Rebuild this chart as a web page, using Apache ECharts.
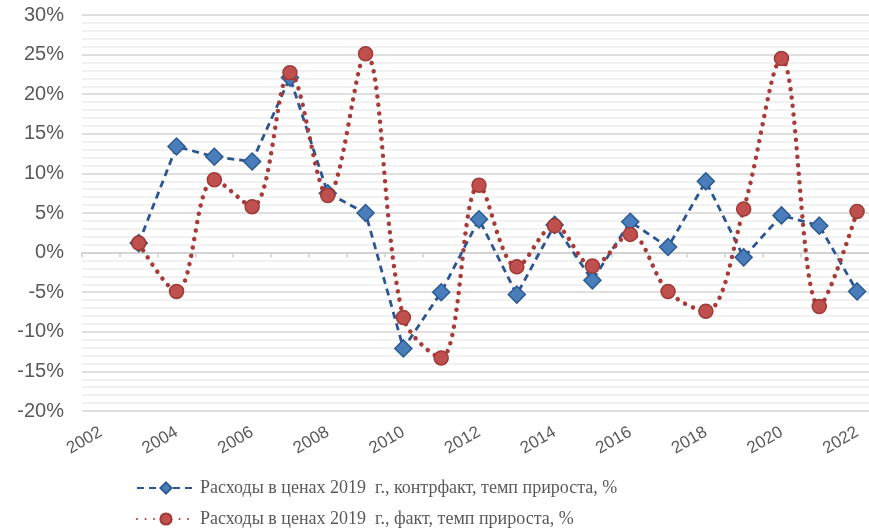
<!DOCTYPE html>
<html>
<head>
<meta charset="utf-8">
<script src="https://cdn.jsdelivr.net/npm/echarts@6/dist/echarts.min.js"></script>
<style>
html,body{margin:0;padding:0;background:#fff;overflow:hidden;width:869px;height:528px;}
#c{width:877px;height:528px;}
</style>
</head>
<body>
<div id="c"></div>
<script>
const years = ['2002','2003','2004','2005','2006','2007','2008','2009','2010','2011','2012','2013','2014','2015','2016','2017','2018','2019','2020','2021','2022'];
const seriesNames = [
  'Расходы в ценах 2019  г., контрфакт, темп прироста, %',
  'Расходы в ценах 2019  г., факт, темп прироста, %'
];
const counterfact = [null, 1.2, 13.4, 12.1, 11.5, 22.1, 7.5, 5.0, -12.1, -5.0, 4.2, -5.3, 3.5, -3.5, 3.9, 0.7, 9.0, -0.6, 4.7, 3.4, -4.9];
const actual = [null, 1.2, -4.9, 9.2, 5.8, 22.7, 7.2, 25.1, -8.2, -13.3, 8.5, -1.8, 3.4, -1.7, 2.3, -4.9, -7.4, 5.5, 24.5, -6.8, 5.2];
const yMin = -20, yMax = 30, yStep = 5;

const legendText = {fontFamily: 'Liberation Serif', fontSize: 18, color: '#595959'};
const chart = echarts.init(document.getElementById('c'), null, {renderer: 'canvas'});
chart.setOption({
  animation: false,
  backgroundColor: '#ffffff',
  grid: {left: 82, top: 15, width: 794, height: 396, containLabel: false},
  legend: [{
    orient: 'horizontal',
    left: 131,
    top: 474,
    itemWidth: 58,
    itemHeight: 14,
    textStyle: legendText,
    data: [seriesNames[0]]
  }, {
    orient: 'horizontal',
    left: 131,
    top: 505,
    itemWidth: 58,
    itemHeight: 14,
    textStyle: legendText,
    data: [seriesNames[1]]
  }],
  xAxis: [{
    type: 'category',
    data: years,
    boundaryGap: true,
    axisLine: {show: true, onZero: true, lineStyle: {color: '#d0d0d0', width: 1.5}},
    axisTick: {show: true, length: 5, lineStyle: {color: '#d0d0d0', width: 1.5}},
    axisLabel: {show: false},
    splitLine: {show: false}
  }, {
    type: 'category',
    data: years,
    position: 'bottom',
    boundaryGap: true,
    axisLine: {show: false, onZero: false},
    axisTick: {show: false},
    axisLabel: {show: true, interval: 1, rotate: 30, margin: 20, fontFamily: 'Liberation Sans', fontSize: 17, color: '#595959'},
    splitLine: {show: false}
  }],
  yAxis: {
    type: 'value',
    min: yMin, max: yMax, interval: yStep,
    axisLine: {show: false},
    axisTick: {show: false},
    axisLabel: {formatter: v => v + '%', fontFamily: 'Liberation Sans', fontSize: 20, color: '#595959', margin: 18},
    splitLine: {show: true, lineStyle: {color: '#d4d4d4', width: 1.5}},
    minorTick: {show: false, splitNumber: 5},
    minorSplitLine: {show: true, lineStyle: {color: '#ededed', width: 1.5}}
  },
  series: [{
    name: seriesNames[0],
    type: 'line',
    xAxisIndex: 0,
    data: counterfact,
    symbol: 'diamond',
    symbolSize: 17,
    itemStyle: {color: '#4a7ebb', borderColor: '#2c5a92', borderWidth: 1.5},
    lineStyle: {color: '#2a5592', width: 2.8, type: [7, 5]},
    z: 2
  }, {
    name: seriesNames[1],
    type: 'line',
    xAxisIndex: 0,
    data: actual,
    smooth: 0.35,
    symbol: 'circle',
    symbolSize: 14,
    itemStyle: {color: '#c0504d', borderColor: '#9e3a37', borderWidth: 1.5},
    lineStyle: {color: '#a83a37', width: 4.5, type: [0.01, 8.5], cap: 'round'},
    z: 3
  }]
});
</script>
</body>
</html>
